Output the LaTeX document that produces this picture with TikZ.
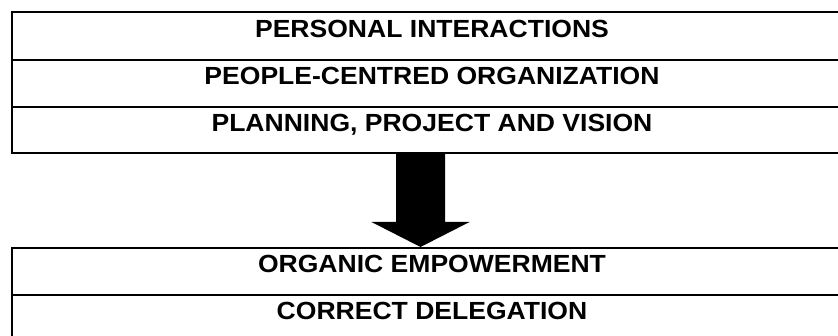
\documentclass[tikz,border=0pt]{standalone}
\usepackage{fontspec}
\setmainfont[FakeStretch=1.07]{Liberation Sans}
\usetikzlibrary{calc}
\begin{document}
\begin{tikzpicture}[x=1pt,y=-1pt,
  rowbox/.style={draw=black, line width=2pt, minimum width=840pt, inner sep=0pt,
    text height=17.8pt, text depth=15pt,
    font=\fontsize{24.8}{30}\selectfont\bfseries},
  bigarrow/.style={fill=black, draw=none}]
\useasboundingbox (0,0) rectangle (838,336);
\clip (0,0) rectangle (838,336);
\fill[white] (0,0) rectangle (838,336);
% top group
\node[rowbox, minimum height=48pt] (r1) at (432,36) {PERSONAL INTERACTIONS};
\node[rowbox, minimum height=47pt] (r2) at (432,83.5) {PEOPLE-CENTRED ORGANIZATION};
\node[rowbox, minimum height=46pt] (r3) at (432,130) {PLANNING, PROJECT AND VISION};
% bottom group
\node[rowbox, minimum height=47pt] (e1) at (432,271.5) {ORGANIC EMPOWERMENT};
\node[rowbox, minimum height=47pt] (e2) at (432,318.5) {CORRECT DELEGATION};
% arrow
\coordinate (ax) at (420.5,0);
\coordinate (astart) at (r3.south -| ax);
\coordinate (aend) at (e1.north -| ax);
\path[bigarrow] ($(astart)+(-24.5,-1)$) -- ($(astart)+(24.5,-1)$)
  -- ($(aend)+(24.5,-25)$) -- ($(aend)+(49,-25)$) -- (aend)
  -- ($(aend)+(-49,-25)$) -- ($(aend)+(-24.5,-25)$) -- cycle;
\end{tikzpicture}
\end{document}
